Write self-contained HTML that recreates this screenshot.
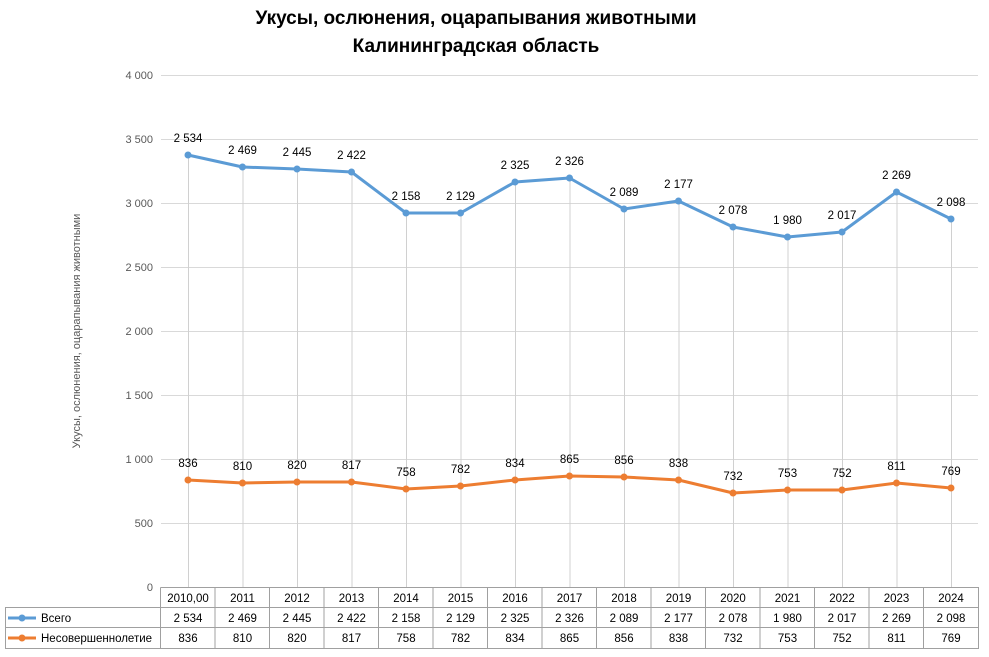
<!DOCTYPE html><html><head><meta charset="utf-8"><style>body{margin:0;background:#fff}svg{display:block;font-family:"Liberation Sans",sans-serif}</style></head><body>
<svg width="989" height="657" viewBox="0 0 989 657" xmlns="http://www.w3.org/2000/svg">
<rect width="989" height="657" fill="#fff"/>
<text x="476" y="24" text-anchor="middle" font-size="19" font-weight="bold">Укусы, ослюнения, оцарапывания животными</text>
<text x="476" y="52" text-anchor="middle" font-size="19" font-weight="bold">Калининградская область</text>
<g stroke="#d9d9d9" stroke-width="1">
<line x1="161" x2="978" y1="75.5" y2="75.5"/><line x1="161" x2="978" y1="139.5" y2="139.5"/><line x1="161" x2="978" y1="203.5" y2="203.5"/><line x1="161" x2="978" y1="267.5" y2="267.5"/><line x1="161" x2="978" y1="331.5" y2="331.5"/><line x1="161" x2="978" y1="395.5" y2="395.5"/><line x1="161" x2="978" y1="459.5" y2="459.5"/><line x1="161" x2="978" y1="523.5" y2="523.5"/>
</g>
<g font-size="11" fill="#595959" text-anchor="end">
<text x="153" y="79">4 000</text><text x="153" y="143">3 500</text><text x="153" y="207">3 000</text><text x="153" y="271">2 500</text><text x="153" y="335">2 000</text><text x="153" y="399">1 500</text><text x="153" y="463">1 000</text><text x="153" y="527">500</text><text x="153" y="591">0</text>
</g>
<text transform="translate(80,331) rotate(-90)" text-anchor="middle" font-size="11" fill="#595959">Укусы, ослюнения, оцарапывания животными</text>
<g stroke="#d0d0d0" stroke-width="1">
<line x1="188.5" x2="188.5" y1="155" y2="587"/><line x1="243" x2="243" y1="167" y2="587"/><line x1="297.5" x2="297.5" y1="169" y2="587"/><line x1="352" x2="352" y1="172" y2="587"/><line x1="406.5" x2="406.5" y1="213" y2="587"/><line x1="461" x2="461" y1="213" y2="587"/><line x1="515.5" x2="515.5" y1="182" y2="587"/><line x1="570" x2="570" y1="178" y2="587"/><line x1="624.5" x2="624.5" y1="209" y2="587"/><line x1="679" x2="679" y1="201" y2="587"/><line x1="733.5" x2="733.5" y1="227" y2="587"/><line x1="788" x2="788" y1="237" y2="587"/><line x1="842.5" x2="842.5" y1="232" y2="587"/><line x1="897" x2="897" y1="192" y2="587"/><line x1="951.5" x2="951.5" y1="219" y2="587"/>
</g>
<polyline points="188,155 242.5,167 297,169 351.5,172 406,213 460.5,213 515,182 569.5,178 624,209 678.5,201 733,227 787.5,237 842,232 896.5,192 951,219" fill="none" stroke="#5b9bd5" stroke-width="3" stroke-linejoin="round"/>
<g fill="#5b9bd5"><circle cx="188" cy="155" r="3.5"/><circle cx="242.5" cy="167" r="3.5"/><circle cx="297" cy="169" r="3.5"/><circle cx="351.5" cy="172" r="3.5"/><circle cx="406" cy="213" r="3.5"/><circle cx="460.5" cy="213" r="3.5"/><circle cx="515" cy="182" r="3.5"/><circle cx="569.5" cy="178" r="3.5"/><circle cx="624" cy="209" r="3.5"/><circle cx="678.5" cy="201" r="3.5"/><circle cx="733" cy="227" r="3.5"/><circle cx="787.5" cy="237" r="3.5"/><circle cx="842" cy="232" r="3.5"/><circle cx="896.5" cy="192" r="3.5"/><circle cx="951" cy="219" r="3.5"/></g>
<polyline points="188,480 242.5,483 297,482 351.5,482 406,489 460.5,486 515,480 569.5,476 624,477 678.5,480 733,493 787.5,490 842,490 896.5,483 951,488" fill="none" stroke="#ed7d31" stroke-width="3" stroke-linejoin="round"/>
<g fill="#ed7d31"><circle cx="188" cy="480" r="3.5"/><circle cx="242.5" cy="483" r="3.5"/><circle cx="297" cy="482" r="3.5"/><circle cx="351.5" cy="482" r="3.5"/><circle cx="406" cy="489" r="3.5"/><circle cx="460.5" cy="486" r="3.5"/><circle cx="515" cy="480" r="3.5"/><circle cx="569.5" cy="476" r="3.5"/><circle cx="624" cy="477" r="3.5"/><circle cx="678.5" cy="480" r="3.5"/><circle cx="733" cy="493" r="3.5"/><circle cx="787.5" cy="490" r="3.5"/><circle cx="842" cy="490" r="3.5"/><circle cx="896.5" cy="483" r="3.5"/><circle cx="951" cy="488" r="3.5"/></g>
<g font-size="11.5" text-anchor="middle" fill="#000">
<text x="188" y="142">2 534</text><text x="242.5" y="154">2 469</text><text x="297" y="156">2 445</text><text x="351.5" y="159">2 422</text><text x="406" y="200">2 158</text><text x="460.5" y="200">2 129</text><text x="515" y="169">2 325</text><text x="569.5" y="165">2 326</text><text x="624" y="196">2 089</text><text x="678.5" y="188">2 177</text><text x="733" y="214">2 078</text><text x="787.5" y="224">1 980</text><text x="842" y="219">2 017</text><text x="896.5" y="179">2 269</text><text x="951" y="206">2 098</text>
<text x="188" y="467">836</text><text x="242.5" y="470">810</text><text x="297" y="469">820</text><text x="351.5" y="469">817</text><text x="406" y="476">758</text><text x="460.5" y="473">782</text><text x="515" y="467">834</text><text x="569.5" y="463">865</text><text x="624" y="464">856</text><text x="678.5" y="467">838</text><text x="733" y="480">732</text><text x="787.5" y="477">753</text><text x="842" y="477">752</text><text x="896.5" y="470">811</text><text x="951" y="475">769</text>
</g>
<g stroke="#a0a0a0" stroke-width="1" fill="none">
<path d="M160.5 587.5H978.5V648.5H5.5V607.5H978.5M5.5 627.5H978.5"/>
<path d="M160.5 587.5V648.5M215 587.5V648.5M269.5 587.5V648.5M324 587.5V648.5M378.5 587.5V648.5M433 587.5V648.5M487.5 587.5V648.5M542 587.5V648.5M596.5 587.5V648.5M651 587.5V648.5M705.5 587.5V648.5M760 587.5V648.5M814.5 587.5V648.5M869 587.5V648.5M923.5 587.5V648.5"/>
</g>
<g font-size="11.5" text-anchor="middle" fill="#000">
<text x="188" y="602">2010,00</text><text x="242.5" y="602">2011</text><text x="297" y="602">2012</text><text x="351.5" y="602">2013</text><text x="406" y="602">2014</text><text x="460.5" y="602">2015</text><text x="515" y="602">2016</text><text x="569.5" y="602">2017</text><text x="624" y="602">2018</text><text x="678.5" y="602">2019</text><text x="733" y="602">2020</text><text x="787.5" y="602">2021</text><text x="842" y="602">2022</text><text x="896.5" y="602">2023</text><text x="951" y="602">2024</text>
<text x="188" y="622">2 534</text><text x="242.5" y="622">2 469</text><text x="297" y="622">2 445</text><text x="351.5" y="622">2 422</text><text x="406" y="622">2 158</text><text x="460.5" y="622">2 129</text><text x="515" y="622">2 325</text><text x="569.5" y="622">2 326</text><text x="624" y="622">2 089</text><text x="678.5" y="622">2 177</text><text x="733" y="622">2 078</text><text x="787.5" y="622">1 980</text><text x="842" y="622">2 017</text><text x="896.5" y="622">2 269</text><text x="951" y="622">2 098</text>
<text x="188" y="642">836</text><text x="242.5" y="642">810</text><text x="297" y="642">820</text><text x="351.5" y="642">817</text><text x="406" y="642">758</text><text x="460.5" y="642">782</text><text x="515" y="642">834</text><text x="569.5" y="642">865</text><text x="624" y="642">856</text><text x="678.5" y="642">838</text><text x="733" y="642">732</text><text x="787.5" y="642">753</text><text x="842" y="642">752</text><text x="896.5" y="642">811</text><text x="951" y="642">769</text>
</g>
<line x1="8" x2="36" y1="618" y2="618" stroke="#5b9bd5" stroke-width="3"/><circle cx="22" cy="618" r="3.5" fill="#5b9bd5"/><text x="41" y="622" font-size="11.5">Всего</text>
<line x1="8" x2="36" y1="638" y2="638" stroke="#ed7d31" stroke-width="3"/><circle cx="22" cy="638" r="3.5" fill="#ed7d31"/><text x="41" y="642" font-size="11.5">Несовершеннолетие</text>
</svg></body></html>
